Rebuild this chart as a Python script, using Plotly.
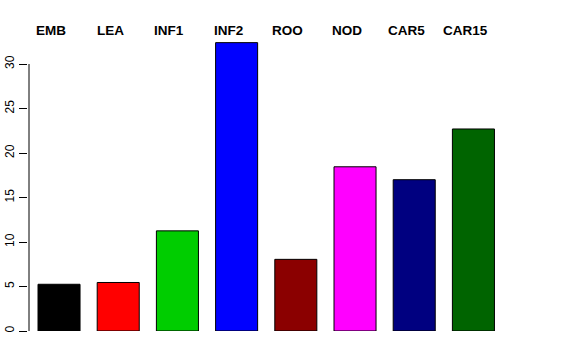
import plotly.graph_objects as go

categories = ["EMB", "LEA", "INF1", "INF2", "ROO", "NOD", "CAR5", "CAR15"]
values = [5.25, 5.45, 11.25, 32.4, 8.05, 18.45, 17.0, 22.7]
colors = ["#000000", "#FF0000", "#00CD00", "#0000FF", "#8B0000", "#FF00FF", "#000080", "#006400"]
ytick_vals = [0, 5, 10, 15, 20, 25, 30]

PLOT_W = 576 - 28 - 30

fig = go.Figure()
fig.add_trace(go.Bar(
    x=categories, y=values,
    marker=dict(color=colors, line=dict(color="#000000", width=1)),
    hoverinfo="skip",
))

for c in categories:
    fig.add_annotation(
        x=c, y=1.0, xref="x", yref="paper", text="<b>%s</b>" % c,
        showarrow=False, xanchor="center", yanchor="middle", xshift=-8, yshift=0,
        font=dict(family="Liberation Sans, Arial, sans-serif", size=13.5, color="#000000"),
    )

# R-style y axis line spanning only the tick range
fig.add_shape(type="line", xref="paper", yref="y", x0=1.0 / PLOT_W, x1=1.0 / PLOT_W,
              y0=ytick_vals[0], y1=ytick_vals[-1], layer="above",
              line=dict(color="#000000", width=1))

fig.update_layout(
    width=576, height=360,
    margin=dict(l=28, r=30, t=30, b=29),
    plot_bgcolor="white", paper_bgcolor="white",
    showlegend=False, bargap=0.29,
    font=dict(family="Liberation Sans, Arial, sans-serif", size=12, color="#000000"),
    xaxis=dict(type="category", range=[-0.524, 8.226], showticklabels=False, ticks="",
               showgrid=False, zeroline=False, showline=False, automargin=False),
    yaxis=dict(range=[0, 33.82], tickvals=ytick_vals, ticks="outside", ticklen=8, tickwidth=1,
               tickcolor="#000000", tickangle=-90, showgrid=False, zeroline=False, showline=False,
               tickfont=dict(size=12), automargin=False),
)

fig.write_html("out.html", config={"displayModeBar": False},
               post_script="document.body.style.margin='0';document.body.style.overflow='hidden';")
